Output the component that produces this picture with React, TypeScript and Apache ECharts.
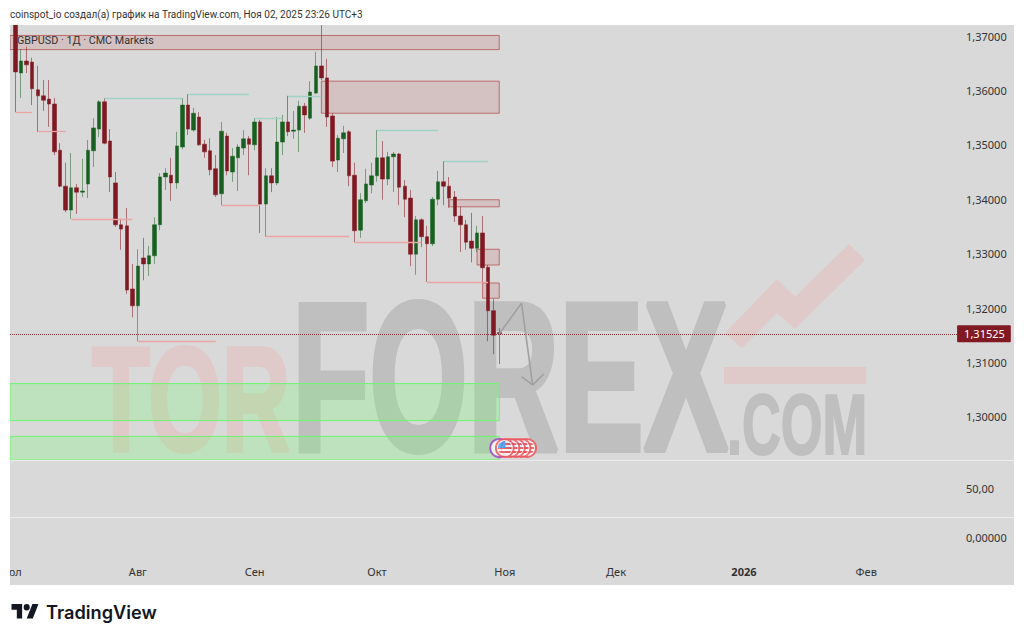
import React, { useEffect, useRef } from "react";
import * as echarts from "echarts";

const titleText = "coinspot_io создал(а) график на TradingView.com, Ноя 02, 2025 23:26 UTC+3";
const legendText = "GBPUSD · 1Д · CMC Markets";
const monthLabels: Record<string, string> = { "07": "Июл", "08": "Авг", "09": "Сен", "10": "Окт", "11": "Ноя", "12": "Дек", "01": "2026", "02": "Фев" };

const opens = [1.3738, 1.3752, 1.3632, 1.3654, 1.3652, 1.3601, 1.359, 1.3584, 1.3575, 1.349, 1.3424, 1.338, 1.3421, 1.3413, 1.3428, 1.3489, 1.3529, 1.3579, 1.3507, 1.343, 1.3353, 1.3351, 1.3235, 1.3204, 1.3292, 1.3281, 1.3296, 1.3353, 1.3441, 1.3444, 1.343, 1.3496, 1.3573, 1.3527, 1.3551, 1.3501, 1.3489, 1.3456, 1.341, 1.3516, 1.345, 1.3476, 1.3494, 1.3511, 1.35, 1.3542, 1.3391, 1.3443, 1.343, 1.3505, 1.3542, 1.3525, 1.3527, 1.3571, 1.3549, 1.3595, 1.3645, 1.3623, 1.3553, 1.3472, 1.3511, 1.3524, 1.3444, 1.3343, 1.3397, 1.3426, 1.3443, 1.3476, 1.3437, 1.3478, 1.3483, 1.3424, 1.3402, 1.3299, 1.3362, 1.3331, 1.3318, 1.34, 1.3432, 1.3424, 1.3404, 1.3369, 1.3353, 1.3323, 1.331, 1.3338, 1.3275, 1.3195, 1.3155];
const closes = [1.3752, 1.3634, 1.3654, 1.3647, 1.3603, 1.359, 1.3582, 1.3575, 1.3487, 1.3424, 1.338, 1.3421, 1.3413, 1.3415, 1.349, 1.3531, 1.3579, 1.3503, 1.3441, 1.3353, 1.3345, 1.3233, 1.3204, 1.3277, 1.3281, 1.3296, 1.3353, 1.3441, 1.3448, 1.343, 1.3498, 1.3573, 1.3529, 1.3558, 1.35, 1.3487, 1.3454, 1.3408, 1.3525, 1.3452, 1.3479, 1.3496, 1.3511, 1.3501, 1.3542, 1.3391, 1.3443, 1.343, 1.3505, 1.3542, 1.3524, 1.3527, 1.3571, 1.3555, 1.3597, 1.3645, 1.3623, 1.3551, 1.347, 1.3512, 1.3522, 1.3443, 1.3342, 1.3399, 1.3428, 1.3443, 1.3476, 1.3437, 1.3478, 1.3483, 1.3422, 1.34, 1.3299, 1.3362, 1.3331, 1.3318, 1.34, 1.3432, 1.3424, 1.3402, 1.3369, 1.3353, 1.3321, 1.331, 1.3338, 1.3274, 1.3195, 1.315, 1.31525];
const lows = [1.3706, 1.356, 1.3586, 1.3632, 1.3573, 1.3524, 1.3562, 1.3533, 1.3481, 1.3422, 1.3376, 1.3364, 1.3373, 1.3404, 1.3402, 1.3459, 1.3514, 1.3501, 1.3413, 1.3349, 1.3307, 1.3226, 1.3183, 1.3139, 1.3251, 1.3259, 1.3281, 1.3343, 1.3417, 1.3397, 1.3419, 1.3492, 1.3518, 1.3524, 1.3498, 1.3476, 1.3444, 1.3404, 1.3389, 1.3444, 1.3432, 1.3415, 1.3481, 1.3444, 1.349, 1.3338, 1.3331, 1.3413, 1.3426, 1.3481, 1.3516, 1.3511, 1.3487, 1.3522, 1.3546, 1.3593, 1.3619, 1.3533, 1.3459, 1.345, 1.3485, 1.3424, 1.3321, 1.3329, 1.3393, 1.3411, 1.3432, 1.3399, 1.3426, 1.3413, 1.3389, 1.3367, 1.3277, 1.3261, 1.3312, 1.3248, 1.3314, 1.3389, 1.3389, 1.3384, 1.3358, 1.3303, 1.3307, 1.3284, 1.3303, 1.3246, 1.3139, 1.3115, 1.3097];
const highs = [1.3785, 1.379, 1.3676, 1.368, 1.366, 1.3645, 1.3619, 1.3619, 1.3586, 1.3503, 1.3467, 1.3485, 1.3428, 1.3474, 1.3509, 1.3549, 1.3582, 1.3586, 1.3529, 1.345, 1.3364, 1.3384, 1.3281, 1.3308, 1.3329, 1.3314, 1.3367, 1.3448, 1.3457, 1.3476, 1.3524, 1.3586, 1.3593, 1.3568, 1.356, 1.3509, 1.3512, 1.3481, 1.3542, 1.3522, 1.3494, 1.3501, 1.3527, 1.3516, 1.3549, 1.3546, 1.3457, 1.3457, 1.3551, 1.3555, 1.359, 1.3562, 1.3581, 1.3577, 1.3617, 1.3671, 1.3745, 1.3658, 1.3558, 1.3518, 1.3535, 1.3527, 1.3467, 1.3411, 1.3456, 1.3467, 1.3527, 1.3507, 1.3487, 1.3487, 1.3485, 1.3435, 1.3417, 1.3369, 1.3365, 1.3351, 1.3404, 1.3452, 1.347, 1.3441, 1.3415, 1.3386, 1.3362, 1.3375, 1.3351, 1.3369, 1.3279, 1.3217, 1.3163];
const lastPrice = 1.31525;

// [first bar, last bar, price]
const supportLevels = [[1, 4, 1.356], [5, 10, 1.3524], [11, 22, 1.3364], [23, 37, 1.3139], [38, 45, 1.3389], [46, 61, 1.3332], [62, 74, 1.3321], [75, 86, 1.3248]];
const resistanceLevels = [[17, 31, 1.3586], [32, 43, 1.3593], [44, 49, 1.3549], [50, 56, 1.359], [66, 77, 1.3527], [78, 86, 1.347]];
// [first bar, last bar, top, bottom]
const supplyZones = [[0, 88, 1.3701, 1.3675], [56, 88, 1.3617, 1.3558], [79, 88, 1.3399, 1.3386], [84, 88, 1.3308, 1.3279], [85, 88, 1.3246, 1.3218]];
const demandZones = [[0, 88, 1.3061, 1.2993], [0, 88, 1.2964, 1.29206]];
const projectionPath = [[88, 1.31525], [92, 1.3209], [94, 1.30585]];
const projectionHead = [[92, 1.3074], [94, 1.30585], [96, 1.30787]];
const eventBars = [93, 92, 91, 90, 89];
const eventOtherBar = 88;
const eventPrice = 1.29426;

const totalBars = 181;

function weekdays(startIso: string, count: number): string[] {
  const out: string[] = [];
  const d = new Date(startIso + "T12:00:00Z");
  while (out.length < count) {
    const w = d.getUTCDay();
    if (w !== 0 && w !== 6) out.push(d.toISOString().slice(0, 10));
    d.setUTCDate(d.getUTCDate() + 1);
  }
  return out;
}
const categories = weekdays("2025-07-01", totalBars);
const firstOfMonth = new Set<number>();
categories.forEach((c, i) => {
  if (i === 0 || categories[i - 1].slice(5, 7) !== c.slice(5, 7)) firstOfMonth.add(i);
});

const usFlag =
  "image://data:image/svg+xml;utf8," +
  encodeURIComponent(
    `<svg xmlns="http://www.w3.org/2000/svg" width="40" height="40" viewBox="0 0 40 40"><defs><clipPath id="c"><circle cx="20" cy="20" r="14"/></clipPath></defs><circle cx="20" cy="20" r="20" fill="#f14e55"/><circle cx="20" cy="20" r="16" fill="#fff"/><g clip-path="url(#c)"><rect x="4" y="4" width="32" height="32" fill="#fff"/><rect x="4" y="10" width="32" height="4" fill="#f0565c"/><rect x="4" y="18" width="32" height="4" fill="#f0565c"/><rect x="4" y="26" width="32" height="4" fill="#f0565c"/><rect x="4" y="4" width="17" height="16" fill="#3d9cf0"/></g></svg>`
  );

const UP = "#17601f";
const DOWN = "#801922";
const FONT = '"Noto Sans", sans-serif';
const TITLE_FONT = 'Roboto, "Noto Sans", sans-serif';
const WM_GRAY = "#bfbfbf";
const WM_PINK = "#e0c9c9";
const WM_FONT_FAMILY = '"Liberation Sans", sans-serif';

export default function App() {
  const ref = useRef<HTMLDivElement>(null);
  useEffect(() => {
    if (!ref.current) return;
    const chart = echarts.init(ref.current, null, { renderer: "svg" });
    echarts.graphic.registerShape(
      "tvlogo",
      echarts.graphic.extendPath("M14 25H7V14H0V7h14v18zM28 25h-8l7.5-18h8L28 25zM24 11a4 4 0 1 1-8 0 4 4 0 0 1 8 0z", {})
    );

    const candleData = opens.map((o, i) => [o, closes[i], lows[i], highs[i]]);
    const levelLine = (lv: number[], color: string) => [
      { coord: [categories[lv[0]], lv[2]], lineStyle: { color, width: 1.3, type: "solid" }, label: { show: false } },
      { coord: [categories[lv[1]], lv[2]] },
    ];
    const zone = (z: number[], fill: string, border: string) => [
      { coord: [categories[z[0]], z[2]], itemStyle: { color: fill, borderColor: border, borderWidth: 1 } },
      { coord: [categories[z[1]], z[3]] },
    ];
    const hiddenX = (gridIndex: number) => ({
      type: "category",
      gridIndex,
      data: categories,
      boundaryGap: false,
      show: false,
    });
    const priceLabel = {
      inside: true,
      margin: 44.8,
      align: "left",
      color: "#333",
      fontSize: 11,
      fontFamily: FONT,
    };
    const bare = { axisLine: { show: false }, axisTick: { show: false }, splitLine: { show: false } };

    chart.setOption({
      animation: false,
      backgroundColor: "#fff",
      grid: [
        { left: 10, width: 1000.8, top: -18.4, height: 489.6, outerBoundsMode: "none" },
        { left: 10, width: 1000.8, top: 460, height: 57, outerBoundsMode: "none" },
        { left: 10, width: 1000.8, top: 517, height: 48, outerBoundsMode: "none" },
      ],
      xAxis: [
        hiddenX(0),
        hiddenX(1),
        {
          type: "category",
          gridIndex: 2,
          data: categories,
          boundaryGap: false,
          axisLine: { show: false },
          axisTick: { show: false },
          splitLine: { show: false },
          axisLabel: {
            show: true,
            margin: 1,
            color: "#333",
            fontSize: 11,
            fontFamily: FONT,
            interval: (i: number) => firstOfMonth.has(i),
            formatter: (v: string) => {
              const t = monthLabels[v.slice(5, 7)];
              return t === "2026" ? `{b|${t}}` : t;
            },
            rich: { b: { fontWeight: "bold", color: "#333", fontSize: 11, fontFamily: FONT } },
          },
        },
      ],
      yAxis: [
        {
          type: "value",
          gridIndex: 0,
          position: "right",
          min: 1.29,
          max: 1.38,
          interval: 0.01,
          ...bare,
          axisLabel: {
            ...priceLabel,
            showMinLabel: false,
            showMaxLabel: false,
            formatter: (v: number) => (v > 1.375 || v < 1.295 ? "" : v.toFixed(5).replace(".", ",")),
          },
        },
        {
          type: "value",
          gridIndex: 1,
          position: "right",
          min: 0,
          max: 100,
          interval: 50,
          ...bare,
          axisLabel: { ...priceLabel, formatter: (v: number) => (v === 50 ? "50,00" : "") },
        },
        {
          type: "value",
          gridIndex: 2,
          position: "right",
          min: -7,
          max: 5,
          interval: 1,
          ...bare,
          axisLabel: { ...priceLabel, formatter: (v: number) => (v === 0 ? "0,00000" : "") },
        },
      ],
      series: [
        {
          type: "candlestick",
          name: "GBPUSD",
          xAxisIndex: 0,
          yAxisIndex: 0,
          barWidth: 4,
          data: candleData,
          z: 4,
          itemStyle: {
            color: UP,
            color0: DOWN,
            borderColor: "rgba(23,96,31,0.5)",
            borderColor0: "rgba(128,25,34,0.55)",
            borderWidth: 1,
          },
          markArea: {
            silent: true,
            data: [
              ...supplyZones.map((z) => zone(z, "rgba(175,40,40,0.13)", "rgba(170,30,30,0.55)")),
              ...demandZones.map((z) => zone(z, "rgba(113,253,113,0.25)", "#6ff56f")),
            ],
          },
          markLine: {
            silent: true,
            symbol: "none",
            data: [
              ...supportLevels.map((l) => levelLine(l, "#eaa5a5")),
              ...resistanceLevels.map((l) => levelLine(l, "#a0d3c6")),
              [
                {
                  coord: [categories[0], lastPrice],
                  lineStyle: { color: "rgba(128,25,34,0.85)", width: 1, type: "dotted" },
                  label: {
                    show: true,
                    position: "insideEnd",
                    distance: 0,
                    formatter: "1,31525",
                    color: "#fff",
                    backgroundColor: DOWN,
                    padding: [3, 6, 3, 7],
                    borderRadius: 1,
                    fontSize: 11,
                    fontFamily: FONT,
                  },
                },
                { coord: [categories[totalBars - 1], lastPrice] },
              ],
            ],
          },
        },
        {
          type: "line",
          name: "Projection",
          xAxisIndex: 0,
          yAxisIndex: 0,
          showSymbol: false,
          symbol: "none",
          data: projectionPath.map((p) => [categories[p[0]], p[1]]),
          lineStyle: { color: "#a0a0a0", width: 1.6 },
          z: 5,
        },
        {
          type: "line",
          name: "Projection head",
          xAxisIndex: 0,
          yAxisIndex: 0,
          showSymbol: false,
          symbol: "none",
          data: projectionHead.map((p) => [categories[p[0]], p[1]]),
          lineStyle: { color: "#a0a0a0", width: 1.6 },
          z: 5,
        },
        {
          type: "scatter",
          name: "Event",
          xAxisIndex: 0,
          yAxisIndex: 0,
          symbol: "circle",
          symbolSize: 18,
          data: [[categories[eventOtherBar], eventPrice]],
          itemStyle: { color: "#fff", borderColor: "#9c3cc8", borderWidth: 2 },
          z: 6,
        },
        {
          type: "scatter",
          name: "US events",
          xAxisIndex: 0,
          yAxisIndex: 0,
          symbol: usFlag,
          symbolSize: 20,
          data: eventBars.map((b) => [categories[b], eventPrice]),
          z: 7,
        },
      ],
      graphic: [
        { type: "rect", z: -5, silent: true, shape: { x: 10, y: 25, width: 1004, height: 560 }, style: { fill: "#d9d9d9" } },
        // watermark
        {
          type: "text", z: -3, silent: true, x: 92, y: 400, scaleX: 0.64,
          style: { text: "TOR", fill: WM_PINK, stroke: WM_PINK, lineWidth: 4, font: `bold 148px ${WM_FONT_FAMILY}`, textAlign: "left", textVerticalAlign: "middle" },
        },
        {
          type: "text", z: -3, silent: true, x: 292, y: 377, scaleX: 0.6,
          style: { text: "FOREX", fill: WM_GRAY, stroke: WM_GRAY, lineWidth: 6, font: `bold 211px ${WM_FONT_FAMILY}`, textAlign: "left", textVerticalAlign: "middle" },
        },
        {
          type: "text", z: -3, silent: true, x: 727, y: 424, scaleX: 0.625,
          style: { text: ".COM", fill: WM_GRAY, stroke: WM_GRAY, lineWidth: 2, font: `bold 86px ${WM_FONT_FAMILY}`, textAlign: "left", textVerticalAlign: "middle" },
        },
        { type: "rect", z: -3, silent: true, shape: { x: 724, y: 367, width: 142, height: 17 }, style: { fill: WM_PINK } },
        {
          type: "polygon", z: -3, silent: true,
          shape: { points: [[725, 333], [777, 279], [795, 297], [849, 244], [865, 260], [795, 329], [777, 313], [742, 348]] },
          style: { fill: WM_PINK },
        },
        // pane separators
        { type: "line", z: 8, silent: true, shape: { x1: 10, y1: 460.5, x2: 1014, y2: 460.5 }, style: { stroke: "#ececec", lineWidth: 1 } },
        { type: "line", z: 8, silent: true, shape: { x1: 10, y1: 517.5, x2: 1014, y2: 517.5 }, style: { stroke: "#ececec", lineWidth: 1 } },
        // page margins
        { type: "rect", z: 50, silent: true, shape: { x: 0, y: 0, width: 1024, height: 25 }, style: { fill: "#fff" } },
        { type: "rect", z: 50, silent: true, shape: { x: 0, y: 585, width: 1024, height: 55 }, style: { fill: "#fff" } },
        { type: "rect", z: 50, silent: true, shape: { x: 0, y: 0, width: 10, height: 640 }, style: { fill: "#fff" } },
        { type: "rect", z: 50, silent: true, shape: { x: 1014, y: 0, width: 10, height: 640 }, style: { fill: "#fff" } },
        {
          type: "text", z: 51, silent: true, x: 10, y: 14, scaleX: 0.912,
          style: { text: titleText, fill: "#333", font: `11px ${TITLE_FONT}`, textVerticalAlign: "middle" },
        },
        {
          type: "text", z: 51, silent: true, x: 17, y: 40, scaleX: 0.98,
          style: { text: legendText, fill: "#333", font: `11px ${TITLE_FONT}`, textVerticalAlign: "middle" },
        },
        { type: "tvlogo", z: 51, silent: true, x: 11.5, y: 598.5, scaleX: 0.76, scaleY: 0.8, style: { fill: "#131722" } },
        {
          type: "text", z: 51, silent: true, x: 46, y: 612,
          style: { text: "TradingView", fill: "#131722", font: `600 18.2px Inter, sans-serif`, textVerticalAlign: "middle" },
        },
      ],
    });
    return () => chart.dispose();
  }, []);
  return <div ref={ref} style={{ position: "fixed", left: 0, top: 0, width: 1024, height: 640 }} />;
}
